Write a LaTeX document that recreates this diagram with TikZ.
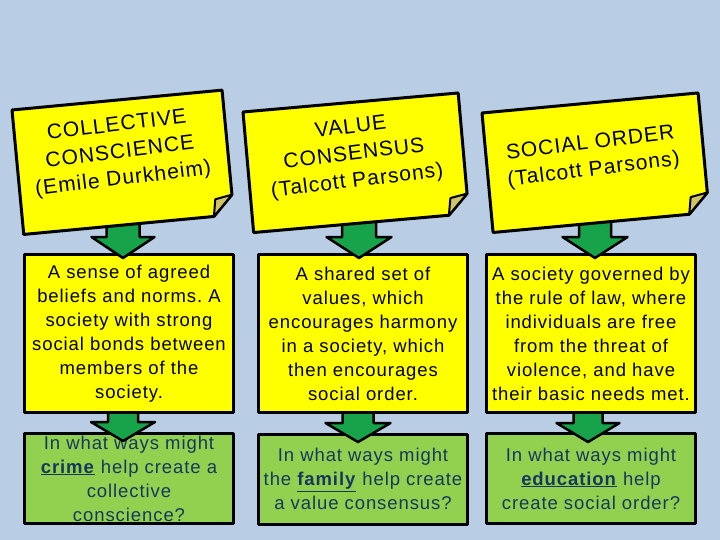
\documentclass[tikz,border=0pt]{standalone}
\usepackage{fontspec}
\setmainfont{Liberation Sans}
\usetikzlibrary{calc}
\frenchspacing
\definecolor{bg}{HTML}{B9CDE5}
\definecolor{noteyellow}{HTML}{FFFF00}
\definecolor{foldkhaki}{HTML}{CFC562}
\definecolor{boxgreen}{HTML}{92D050}
\definecolor{arrowgreen}{HTML}{17A34A}
\definecolor{navytext}{HTML}{17375E}
\newcommand\bkarrow[5]{%
  \draw[barrow] (#1) -- ++(#3,-#4) -- ++(-#3+#2,0) -- ++(0,-#5) -- ++(-2*#2,0) -- ++(0,#5) -- ++(-#3+#2,0) -- cycle;}
\begin{document}
\begin{tikzpicture}[x=1pt,y=-1pt,line join=round,
  ybox/.style={draw=black,line width=3pt,fill=noteyellow,minimum width=209pt,minimum height=158pt,
    align=center,inner xsep=2pt,inner ysep=0pt,font=\fontsize{18.5}{24}\selectfont\addfontfeature{LetterSpace=5}},
  gbox/.style={ybox,fill=boxgreen,text=navytext,minimum height=90pt},
  barrow/.style={draw=black,line width=2.5pt,fill=arrowgreen},
  notebox/.style={draw=black,line width=3pt,fill=noteyellow},
  foldpart/.style={draw=black,line width=2pt,fill=foldkhaki},
  notetext/.style={align=center,rotate=7,inner sep=0pt,font=\fontsize{21}{27}\selectfont\addfontfeature{LetterSpace=5}}]
\fill[bg] (0,0) rectangle (720,540);
\useasboundingbox (0,0) rectangle (720,540);

% green question boxes
\node[gbox] (g1) at (129,478.5) {In what ways might\\\underline{\textbf{crime}} help create a\\collective\\conscience?};
\node[gbox] (g2) at (363,479) {In what ways might\\the \underline{\textbf{family}} help create\\a value consensus?};
\node[gbox] (g3) at (591,478.5) {In what ways might\\\underline{\textbf{education}} help\\create social order?};

% arrows from definition boxes to question boxes
\coordinate (b1) at (123,441);
\coordinate (b2) at (358,442);
\coordinate (b3) at (588,442);
\bkarrow{b1}{15}{32}{19}{14}
\bkarrow{b2}{15.5}{32.5}{19}{14}
\bkarrow{b3}{14.5}{31.5}{19}{14}

% definition boxes
\node[ybox] (y1) at (129,333.5) {A sense of agreed\\beliefs and norms. A\\society with strong\\social bonds between\\members of the\\society.};
\node[ybox] (y2) at (363,333.5) {A shared set of\\values, which\\encourages harmony\\in a society, which\\then encourages\\social order.};
\node[ybox] (y3) at (591,333.5) {A society governed by\\the rule of law, where\\individuals are free\\from the threat of\\violence, and have\\their basic needs met.};

% arrows from notes to definition boxes
\coordinate (a1) at (123,258);
\coordinate (a2) at (359,258);
\coordinate (a3) at (595,258);
\bkarrow{a1}{16.5}{31.5}{21}{24}
\bkarrow{a2}{17}{32.5}{21}{24}
\bkarrow{a3}{16}{32.5}{21}{24}

% sticky notes
\begin{scope}[shift={(12,110)},rotate=5.4]
  \draw[notebox] (0,0) -- (211,0) -- (211,105) -- (191,125) -- (0,125) -- cycle;
  \draw[foldpart] (211,105) -- (194,108) -- (191,125) -- cycle;
\end{scope}
\begin{scope}[shift={(243,112)},rotate=5.05]
  \draw[notebox] (0,0) -- (216,0) -- (216,101) -- (196,121) -- (0,121) -- cycle;
  \draw[foldpart] (216,101) -- (199,104) -- (196,121) -- cycle;
\end{scope}
\begin{scope}[shift={(482,113)},rotate=5.3]
  \draw[notebox] (0,0) -- (217,0) -- (217,100) -- (197,120) -- (0,120) -- cycle;
  \draw[foldpart] (217,100) -- (200,103) -- (197,120) -- cycle;
\end{scope}
\node[notetext] (n1) at (120,153) {COLLECTIVE\\CONSCIENCE\\(Emile Durkheim)};
\node[notetext] (n2) at (354,155) {VALUE\\CONSENSUS\\(Talcott Parsons)};
\node[notetext] (n3) at (592,157) {SOCIAL ORDER\\(Talcott Parsons)};
\end{tikzpicture}
\end{document}
